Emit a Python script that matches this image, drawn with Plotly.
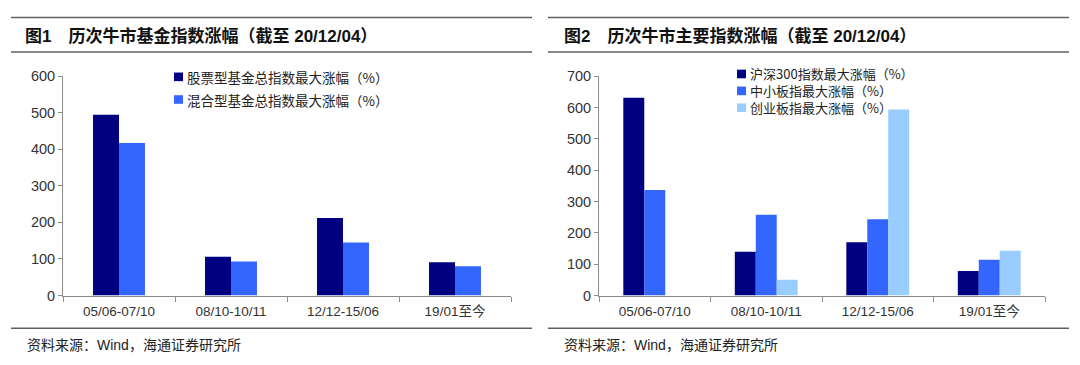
import plotly.graph_objects as go

# ---- data ----
categories = ["05/06-07/10", "08/10-10/11", "12/12-15/06", "19/01至今"]

fund_names = ["股票型基金总指数最大涨幅（%）", "混合型基金总指数最大涨幅（%）"]
stock_fund = [494, 106, 212, 91]
mixed_fund = [417, 93, 145, 80]

index_names = ["沪深300指数最大涨幅（%）", "中小板指最大涨幅（%）", "创业板指最大涨幅（%）"]
hs300 = [631, 140, 170, 78]
sme = [337, 258, 243, 114]
chinext = [0, 50, 593, 143]

left_ticks = [0, 100, 200, 300, 400, 500, 600]
right_ticks = [0, 100, 200, 300, 400, 500, 600, 700]

title1 = "图1\u3000历次牛市基金指数涨幅（截至 20/12/04）"
title2 = "图2\u3000历次牛市主要指数涨幅（截至 20/12/04）"
source = "资料来源：Wind，海通证券研究所"

# ---- style ----
W, H = 1080, 365
C_DARK, C_BLUE, C_LIGHT = "#000080", "#3366FF", "#99CCFF"
FONT = "Liberation Sans, Arial, Noto Sans CJK SC"
CJK = "Noto Sans CJK SC"
AXIS = "#8c8c8c"


def px_x(x):
    return x / W


def px_y(y):
    return 1 - y / H


fig = go.Figure()

w1 = 0.232
for vals, name, col, off in [(stock_fund, fund_names[0], C_DARK, -w1),
                             (mixed_fund, fund_names[1], C_BLUE, 0.0)]:
    fig.add_trace(go.Bar(x=categories, y=vals, name=name, marker_color=col,
                         marker_line_width=0, width=w1, offset=off,
                         xaxis="x", yaxis="y", showlegend=False))

w2 = 0.188
for vals, name, col, off in [(hs300, index_names[0], C_DARK, -1.5 * w2),
                             (sme, index_names[1], C_BLUE, -0.5 * w2),
                             (chinext, index_names[2], C_LIGHT, 0.5 * w2)]:
    fig.add_trace(go.Bar(x=categories, y=vals, name=name, marker_color=col,
                         marker_line_width=0, width=w2, offset=off,
                         xaxis="x2", yaxis="y2", showlegend=False))

ydom = [px_y(300.7), px_y(71.2)]
xaxis_common = dict(type="category", showline=True, linecolor=AXIS, linewidth=1,
                    ticks="outside", tickson="boundaries", ticklen=5, tickcolor=AXIS,
                    showgrid=False, zeroline=False,
                    tickfont=dict(family=FONT, size=13.5, color="#333333"),
                    ticklabelstandoff=3)
yaxis_common = dict(showline=True, linecolor=AXIS, linewidth=1, ticks="outside",
                    ticklen=4, tickcolor=AXIS, showgrid=False, zeroline=False,
                    tickfont=dict(family=FONT, size=14.5, color="#333333"))

fig.update_layout(
    width=W, height=H, margin=dict(l=0, r=0, t=0, b=0), autosize=False,
    paper_bgcolor="white", plot_bgcolor="white", barmode="overlay",
    xaxis=dict(domain=[px_x(63), px_x(511)], anchor="y", **xaxis_common),
    yaxis=dict(domain=ydom, anchor="x", range=[0, 600], tickvals=left_ticks, **yaxis_common),
    xaxis2=dict(domain=[px_x(599), px_x(1045)], anchor="y2", **xaxis_common),
    yaxis2=dict(domain=ydom, anchor="x2", range=[0, 700], tickvals=right_ticks, **yaxis_common),
)

shapes = []
annotations = []

for x0, x1 in [(11, 532), (548, 1069)]:
    for y in (10, 46, 335):
        shapes.append(dict(type="line", xref="paper", yref="paper",
                           x0=px_x(x0), x1=px_x(x1), y0=px_y(y), y1=px_y(y),
                           line=dict(color="#606060", width=1.5)))

for x, t in [(23, title1), (562, title2)]:
    annotations.append(dict(xref="paper", yref="paper", x=px_x(x), y=px_y(29),
                            xanchor="left", yanchor="middle", showarrow=False,
                            text="<b>" + t + "</b>",
                            font=dict(family=FONT, size=17, color="#111111")))

for x in (25, 562):
    annotations.append(dict(xref="paper", yref="paper", x=px_x(x), y=px_y(352),
                            xanchor="left", yanchor="middle", showarrow=False,
                            text=source,
                            font=dict(family=FONT, size=14, color="#222222")))


def legend_item(sx, sy, col, name, size=13.5):
    shapes.append(dict(type="rect", xref="paper", yref="paper",
                       x0=px_x(sx), x1=px_x(sx + 9), y0=px_y(sy + 4.5), y1=px_y(sy - 4.5),
                       fillcolor=col, line=dict(width=0)))
    annotations.append(dict(xref="paper", yref="paper", x=px_x(sx + 11), y=px_y(sy),
                            xanchor="left", yanchor="middle", showarrow=False,
                            text=name, font=dict(family=CJK, size=size, color="#222222")))


legend_item(174, 72, C_DARK, fund_names[0])
legend_item(174, 95.7, C_BLUE, fund_names[1])
legend_item(737, 69, C_DARK, index_names[0], 13)
legend_item(737, 86.7, C_BLUE, index_names[1], 13)
legend_item(737, 104.3, C_LIGHT, index_names[2], 13)

fig.update_layout(shapes=shapes, annotations=annotations)

css_js = (
    "var de=document.documentElement, b=document.body;"
    "de.style.margin='0';de.style.padding='0';de.style.height='365px';de.style.overflow='hidden';"
    "b.style.margin='0';b.style.padding='0';b.style.height='365px';b.style.overflow='hidden';"
    "var d=document.getElementById('{plot_id}');"
    "d.style.position='fixed';d.style.top='0px';d.style.left='0px';"
)

fig.write_html("out.html", config={"displayModeBar": False}, post_script=css_js)
